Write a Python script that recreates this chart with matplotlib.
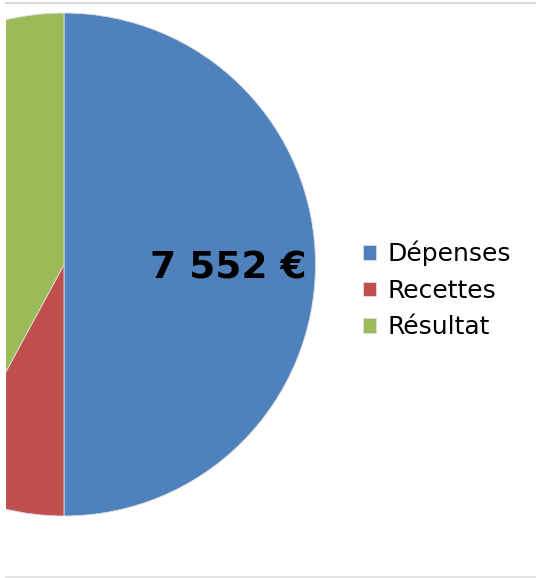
import matplotlib
matplotlib.use("Agg")
import matplotlib.pyplot as plt
from matplotlib.lines import Line2D

categories = ["Dépenses", "Recettes", "Résultat"]
values = [7552, 1192, 6360]
label_text = "7 552 €"
colors = ["#4F81BD", "#C0504D", "#9BBB59"]

W, H = 536, 578
fig = plt.figure(figsize=(W / 100, H / 100), dpi=100)
fig.patch.set_facecolor("white")

# axes in pixel-like data coordinates (y up)
x0, x1 = 6, 536
y0, y1 = 2, 575
ax = fig.add_axes([x0 / W, y0 / H, (x1 - x0) / W, (y1 - y0) / H])

cx, cy, r = 64, 578 - 264.5, 251.5

def fmt(pct, _state={"i": 0}):
    i = _state["i"]
    _state["i"] += 1
    return label_text if i == 0 else ""

wedges, texts, autotexts = ax.pie(
    values, colors=colors, startangle=90, counterclock=False,
    radius=r, center=(cx, cy), autopct=fmt, pctdistance=0.65,
    wedgeprops=dict(edgecolor="#dddddd", linewidth=0.6),
    textprops=dict(fontsize=27, fontweight="bold", color="black"),
)
for w in wedges:
    w.set_clip_on(True)
for t in autotexts:
    px, py = t.get_position()
    t.set_position((px + 1, py - 4))
ax.set_xlim(x0, x1)
ax.set_ylim(y0, y1)
ax.set_aspect("equal")
ax.axis("off")

fig.legend(wedges, categories, loc="center left",
           bbox_to_anchor=(363 / W, 1 - 290 / H), frameon=False,
           fontsize=18, handlelength=0.5, handleheight=0.5,
           handletextpad=0.5, labelspacing=0.5, borderpad=0, borderaxespad=0)

fig.add_artist(Line2D([6 / W, 1], [1 - 2.5 / H, 1 - 2.5 / H], color="#d9d9d9", lw=1.5,
                      transform=fig.transFigure))
fig.add_artist(Line2D([6 / W, 1], [1 - 577 / H, 1 - 577 / H], color="#e6e6e6", lw=1.5,
                      transform=fig.transFigure))

fig.savefig("out.png", dpi=100, facecolor="white")
